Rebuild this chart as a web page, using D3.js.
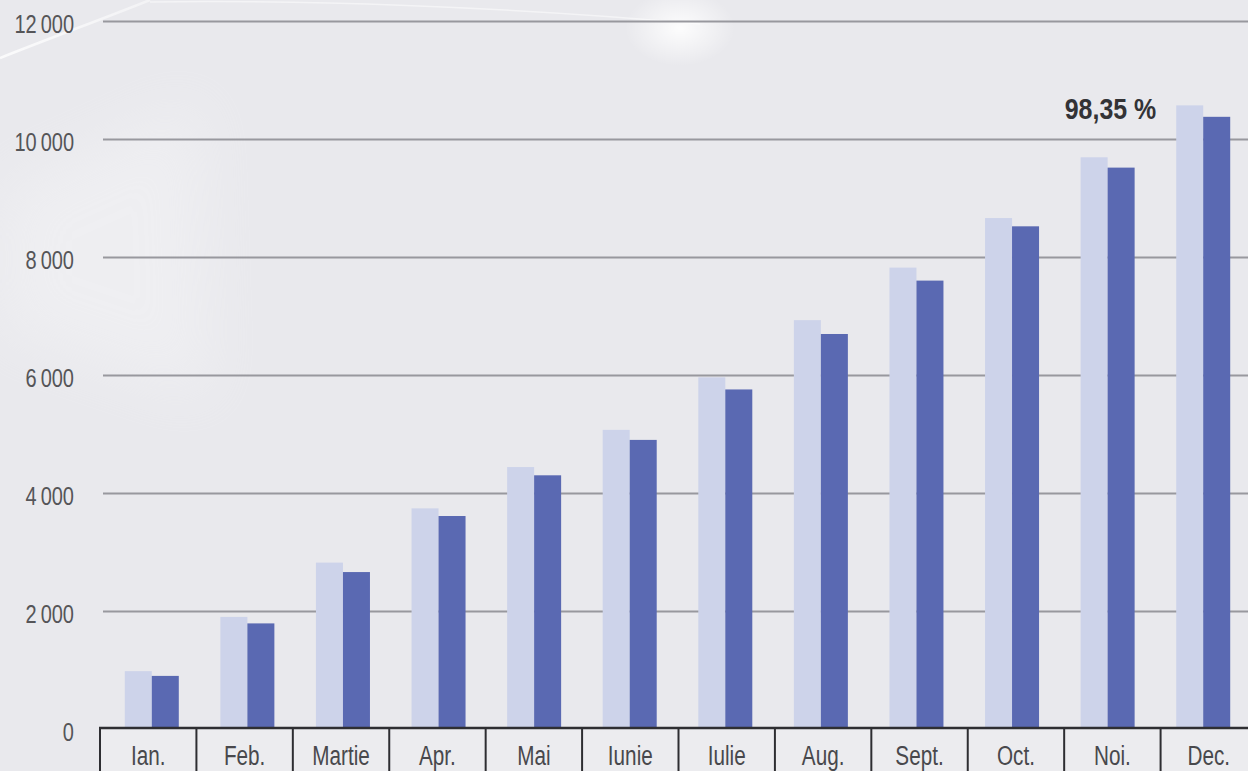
<!DOCTYPE html>
<html>
<head>
<meta charset="utf-8">
<script src="https://cdn.jsdelivr.net/npm/d3@7"></script>
<style>
  html, body { margin: 0; padding: 0; background: #e9e9ed; }
  svg { display: block; }
  text { font-family: "Liberation Sans", Arial, sans-serif; }
</style>
</head>
<body>
<svg id="chart" width="1248" height="771"></svg>
<script>
// ---- data ----
const months = ["Ian.", "Feb.", "Martie", "Apr.", "Mai", "Iunie", "Iulie", "Aug.", "Sept.", "Oct.", "Noi.", "Dec."];
const seriesLight = [980, 1900, 2820, 3740, 4440, 5070, 5960, 6930, 7820, 8660, 9690, 10570];
const seriesDark  = [900, 1790, 2660, 3610, 4300, 4900, 5755, 6695, 7600, 8520, 9515, 10376];
const yTickValues = [0, 2000, 4000, 6000, 8000, 10000, 12000];
const annotationText = "98,35 %";

// ---- setup ----
const W = 1248, H = 771;
const svg = d3.select("#chart");
const locale = d3.formatLocale({ decimal: ",", thousands: "\u2009", grouping: [3], currency: ["", ""] });
const fmt = locale.format(",d");

// background
const defs = svg.append("defs");
const glow = defs.append("radialGradient").attr("id", "glow");
glow.append("stop").attr("offset", "0%").attr("stop-color", "#ffffff").attr("stop-opacity", 0.9);
glow.append("stop").attr("offset", "100%").attr("stop-color", "#ffffff").attr("stop-opacity", 0);
const streak = defs.append("linearGradient").attr("id", "streak").attr("x1", "0").attr("x2", "1");
streak.append("stop").attr("offset", "0%").attr("stop-color", "#ffffff").attr("stop-opacity", 0.9);
streak.append("stop").attr("offset", "100%").attr("stop-color", "#ffffff").attr("stop-opacity", 0.5);
defs.append("filter").attr("id", "blur").attr("x", "-50%").attr("y", "-50%").attr("width", "200%").attr("height", "200%")
  .append("feGaussianBlur").attr("stdDeviation", 30);

svg.append("rect").attr("width", W).attr("height", H).attr("fill", "#e9e9ed");
svg.append("polygon").attr("points", "0,190 200,100 210,400 0,330").attr("fill", "#ffffff").attr("opacity", 0.25).attr("filter", "url(#blur)");
svg.append("ellipse").attr("cx", 680).attr("cy", 28).attr("rx", 55).attr("ry", 38).attr("fill", "url(#glow)");
svg.append("path").attr("d", "M0,58 C50,38 100,20 150,0").attr("stroke", "url(#streak)").attr("stroke-width", 2.5).attr("fill", "none").attr("opacity", 0.9);
svg.append("path").attr("d", "M150,2 C300,0 500,6 700,24").attr("stroke", "#ffffff").attr("stroke-width", 1.5).attr("fill", "none").attr("opacity", 0.5);

// ---- scales ----
const y = d3.scaleLinear().domain([0, 12000]).range([729, 21]);
const xAxisBand = d3.scaleBand().domain(months).range([100, 1257]).padding(0);
const xBars = d3.scaleBand().domain(months).range([104, 1251]).padding(0);
const pairW = 54;
const xSub = d3.scaleBand().domain(["light", "dark"])
  .range([(xBars.bandwidth() - pairW) / 2, (xBars.bandwidth() + pairW) / 2]).padding(0);

// ---- gridlines ----
const grid = svg.append("g").attr("class", "grid")
  .attr("transform", "translate(103,0)")
  .call(d3.axisLeft(y).tickValues(yTickValues.filter(v => v > 0)).tickSize(-(W - 103)).tickFormat(""));
grid.select(".domain").remove();
grid.selectAll("line").attr("stroke", "#98989e").attr("stroke-width", 2);

// ---- y labels ----
const yAx = svg.append("g").attr("transform", "translate(74,0)")
  .call(d3.axisLeft(y).tickValues(yTickValues).tickSize(0).tickPadding(0).tickFormat(fmt));
yAx.select(".domain").remove();
yAx.selectAll("text")
  .attr("x", 0)
  .attr("dy", "0.45em")
  .attr("font-size", 25)
  .attr("fill", "#555558")
  .attr("transform", "scale(0.8,1)");

// ---- bars ----
const data = months.map((m, i) => ({ m, light: seriesLight[i], dark: seriesDark[i] }));
const colors = { light: "#cdd3ea", dark: "#5a69b2" };
const groups = svg.append("g").selectAll("g").data(data).join("g")
  .attr("transform", d => `translate(${xBars(d.m)},0)`);
groups.selectAll("rect").data(d => ["light", "dark"].map(k => ({ k, v: d[k] }))).join("rect")
  .attr("x", d => xSub(d.k))
  .attr("width", xSub.bandwidth())
  .attr("y", d => y(d.v))
  .attr("height", d => y(0) - y(d.v))
  .attr("fill", d => colors[d.k]);

// ---- x axis boxes ----
const axisY = 728;
svg.append("rect").attr("x", 100).attr("y", axisY).attr("width", W - 100).attr("height", H - axisY).attr("fill", "#ececef");
const xAx = svg.append("g").attr("transform", `translate(0,${axisY})`)
  .call(d3.axisBottom(xAxisBand).tickSize(0).tickPadding(0));
xAx.select(".domain").remove();
xAx.selectAll("text")
  .attr("y", 37)
  .attr("dy", 0)
  .attr("font-size", 28)
  .attr("fill", "#48484c")
  .attr("transform", "scale(0.74,1)");
// separators
const seps = months.map(m => xAxisBand(m)).concat([xAxisBand(months[months.length - 1]) + xAxisBand.bandwidth()]);
svg.append("g").selectAll("line").data(seps).join("line")
  .attr("x1", d => d).attr("x2", d => d)
  .attr("y1", axisY).attr("y2", H)
  .attr("stroke", "#2e2e32").attr("stroke-width", 2);
svg.append("line").attr("x1", 99).attr("x2", W).attr("y1", axisY).attr("y2", axisY)
  .attr("stroke", "#2e2e32").attr("stroke-width", 2.5);

// ---- annotation ----
const annX = xBars("Dec.") + xSub("light") - 20;
svg.append("text")
  .attr("transform", `translate(${annX},119) scale(0.86,1)`)
  .attr("text-anchor", "end")
  .attr("font-size", 29)
  .attr("font-weight", "bold")
  .attr("fill", "#333336")
  .text(annotationText);
</script>
</body>
</html>
